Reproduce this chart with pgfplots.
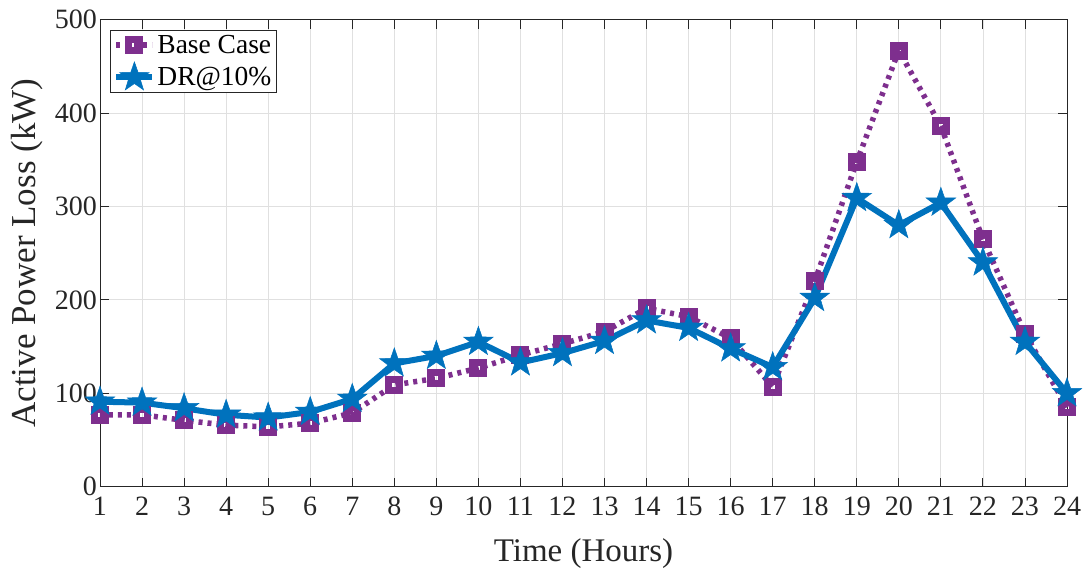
\documentclass[border=0pt]{standalone}
\usepackage{fontspec}
\setmainfont{Liberation Serif}
\usepackage{pgfplots}
\pgfplotsset{compat=1.18}

\definecolor{mpurple}{RGB}{126,47,142}
\definecolor{mblue}{RGB}{0,114,189}
\definecolor{axgray}{RGB}{38,38,38}

% filled five-pointed star (pentagram) marker
\pgfdeclareplotmark{pstar}{%
  \pgfpathmoveto{\pgfqpointpolar{90}{\pgfplotmarksize}}%
  \pgfpathlineto{\pgfqpointpolar{126}{0.40\pgfplotmarksize}}%
  \pgfpathlineto{\pgfqpointpolar{162}{\pgfplotmarksize}}%
  \pgfpathlineto{\pgfqpointpolar{198}{0.40\pgfplotmarksize}}%
  \pgfpathlineto{\pgfqpointpolar{234}{\pgfplotmarksize}}%
  \pgfpathlineto{\pgfqpointpolar{270}{0.40\pgfplotmarksize}}%
  \pgfpathlineto{\pgfqpointpolar{306}{\pgfplotmarksize}}%
  \pgfpathlineto{\pgfqpointpolar{342}{0.40\pgfplotmarksize}}%
  \pgfpathlineto{\pgfqpointpolar{18}{\pgfplotmarksize}}%
  \pgfpathlineto{\pgfqpointpolar{54}{0.40\pgfplotmarksize}}%
  \pgfpathclose
  \pgfusepathqfillstroke
}

\begin{document}
\begin{tikzpicture}
\begin{axis}[
  scale only axis,
  width=967pt, height=467pt,
  xmin=1, xmax=24, ymin=0, ymax=500,
  xtick={1,...,24}, ytick={0,100,...,500},
  grid=major,
  major grid style={color=black!12, line width=0.8pt},
  tick align=inside, major tick length=9pt,
  axis line style={axgray, line width=0.9pt},
  tick style={axgray, line width=0.9pt},
  ticklabel style={font=\fontsize{28}{32}\selectfont, text=axgray},
  /pgf/number format/assume math mode=true,
  xticklabel style={yshift=-6.5pt},
  yticklabel style={xshift=0.5pt},
  label style={text=axgray},
  xlabel={Time (Hours)},
  ylabel={Active Power Loss (kW)},
  xlabel style={font=\fontsize{33}{38}\selectfont,
    at={(axis description cs:0.5,-0.1606)}, anchor=base},
  ylabel style={font=\fontsize{35}{40}\selectfont,
    at={(axis description cs:-0.0662,0.5)}, anchor=base},
  clip=false,
  legend style={
    at={(axis description cs:0.0103,0.9786)}, anchor=north west,
    font=\fontsize{27.5}{32}\selectfont,
    draw=axgray, line width=0.9pt, fill=white,
    inner sep=3pt, row sep=5pt,
    cells={anchor=west},
  },
  legend image code/.code={%
    \draw[mark repeat=2, mark phase=2] plot coordinates {(0pt,0pt) (18pt,0pt) (36pt,0pt)};
  },
]
\addplot[mpurple, line width=5.5pt, dash pattern=on 4pt off 5pt,
  mark=square, mark size=5.5pt, mark options={solid, line width=7pt}]
  coordinates {
  (1,77) (2,77) (3,71) (4,66) (5,64) (6,68) (7,79) (8,109)
  (9,116) (10,127) (11,141) (12,153) (13,166) (14,191) (15,182) (16,159)
  (17,107) (18,220) (19,348) (20,467) (21,386) (22,265) (23,164) (24,85)
  };
\addlegendentry{Base Case}
\addplot[mblue, line width=6pt,
  mark=pstar, mark size=15.5pt, mark options={solid, fill=mblue, line width=0.5pt}]
  coordinates {
  (1,91) (2,90) (3,84) (4,77) (5,74) (6,80) (7,94) (8,132)
  (9,140) (10,155) (11,133) (12,143) (13,156) (14,178) (15,170) (16,148)
  (17,128) (18,202) (19,309) (20,280) (21,304) (22,240) (23,155) (24,100)
  };
\addlegendentry{DR@10\%}
\end{axis}
% page frame: 100pt left of the axis, 88.3pt below it
\pgfresetboundingbox
\path[use as bounding box] (current axis.south west) ++(-100pt,-88.3pt) rectangle ++(1086pt,575pt);
\end{tikzpicture}
\end{document}
